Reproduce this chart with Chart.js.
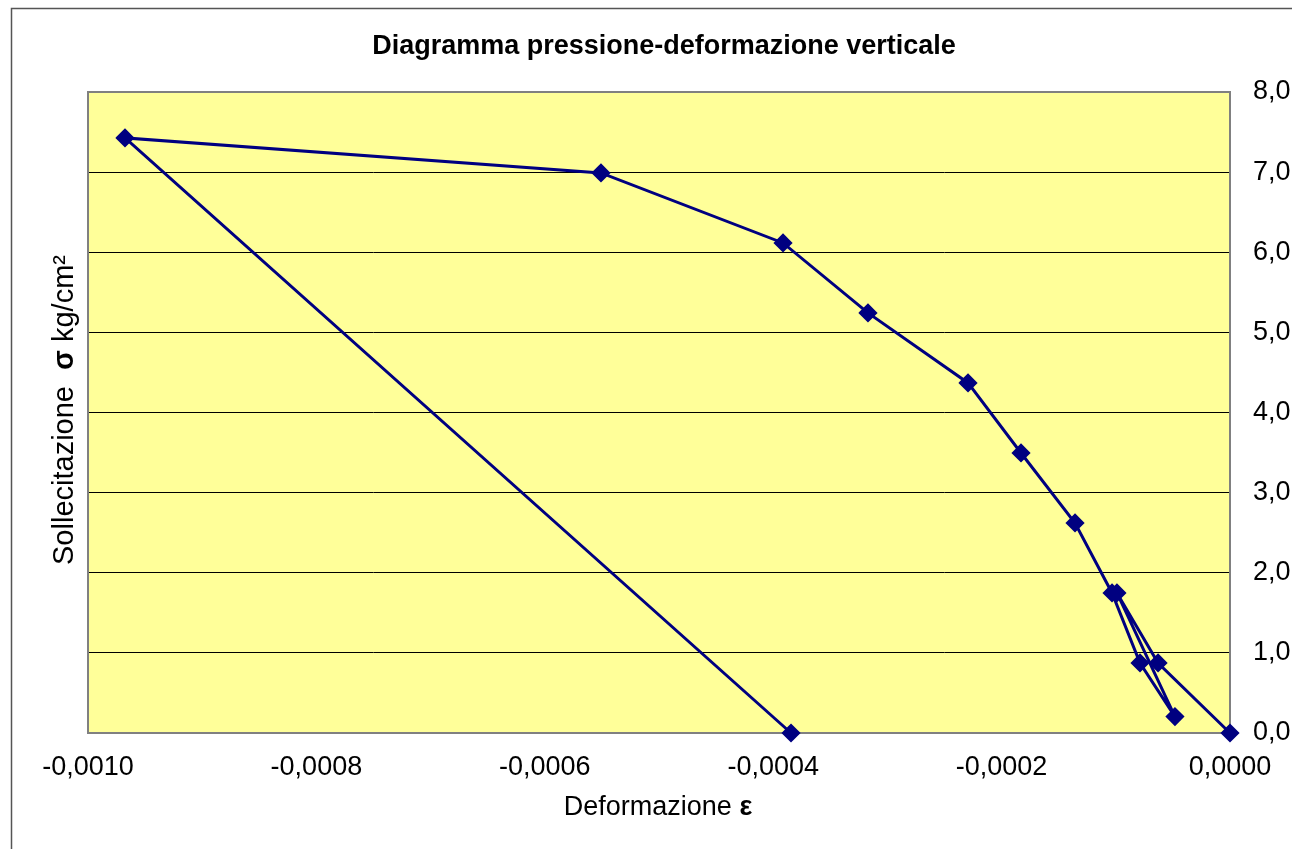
<!doctype html>
<html>
<head>
  <script src="https://cdn.jsdelivr.net/npm/chart.js@4.4.0/dist/chart.umd.min.js"></script>
  <style>
    body { margin: 0; background: #fff; }
    #wrap { width: 1292px; height: 849px; }
  </style>
</head>
<body>
  <div id="wrap"><canvas id="myChart" width="1292" height="849"></canvas></div>
  <script>
    // deformazione (epsilon) and sollecitazione (sigma, kg/cm2), in loading order
    var deformazione = [0, -0.0000630, -0.0000990, -0.0000482, -0.0000788, -0.0001033,
      -0.0001357, -0.0001830, -0.0002294, -0.0003170, -0.0003914, -0.0005508, -0.0009676, -0.0003844];
    var sollecitazione = [0, 0.874, 1.748, 0.205, 0.874, 1.748,
      2.621, 3.495, 4.369, 5.243, 6.116, 6.990, 7.427, 0];

    var titleText = 'Diagramma pressione-deformazione verticale';
    var navy = '#000080';
    var fam = '"Liberation Sans", Arial, sans-serif';

    var points = deformazione.map(function(x, i) {
      return { x: x, y: sollecitazione[i] };
    });

    // background, frame and titles (mixed bold text)
    var decor = {
      id: 'decor',
      beforeDraw: function(chart) {
        var ctx = chart.ctx, a = chart.chartArea;
        ctx.save();
        ctx.fillStyle = '#fff';
        ctx.fillRect(0, 0, chart.width, chart.height);
        ctx.strokeStyle = '#555';
        ctx.lineWidth = 1.5;
        ctx.strokeRect(11.5, 8.5, 1300, 860);
        ctx.fillStyle = '#FFFF99';
        ctx.fillRect(a.left, a.top, a.right - a.left, a.bottom - a.top);
        ctx.restore();
      },
      beforeDatasetsDraw: function(chart) {
        var ctx = chart.ctx, a = chart.chartArea;
        ctx.save();
        ctx.strokeStyle = '#808080';
        ctx.lineWidth = 2;
        ctx.strokeRect(a.left, a.top, a.right - a.left, a.bottom - a.top);
        ctx.restore();
      },
      afterDraw: function(chart) {
        var ctx = chart.ctx;
        ctx.save();
        ctx.fillStyle = '#000';
        ctx.textBaseline = 'middle';
        ctx.textAlign = 'center';
        ctx.font = 'bold 27px ' + fam;
        ctx.fillText(titleText, 664, 47);

        var drawMixed = function(parts, cx, cy) {
          var w = 0;
          parts.forEach(function(p) { ctx.font = p[1]; w += ctx.measureText(p[0]).width; });
          var x = cx - w / 2;
          ctx.textAlign = 'left';
          parts.forEach(function(p) {
            ctx.font = p[1];
            ctx.fillText(p[0], x, cy);
            x += ctx.measureText(p[0]).width;
          });
        };
        drawMixed([['Deformazione ', '27px ' + fam], ['\u03b5', 'bold 27px ' + fam]], 658, 808);

        ctx.translate(65, 410);
        ctx.rotate(-Math.PI / 2);
        drawMixed([['Sollecitazione  ', '29px ' + fam], ['\u03c3', 'bold 29px ' + fam],
          [' kg/cm\u00b2', '29px ' + fam]], 0, 0);
        ctx.restore();
      }
    };

    var config = {
      type: 'scatter',
      data: {
        datasets: [{
          data: points,
          showLine: true,
          borderColor: navy,
          backgroundColor: navy,
          borderWidth: 3,
          pointStyle: 'rectRot',
          pointRadius: 7.5,
          pointHoverRadius: 7.5,
          clip: false
        }]
      },
      options: {
        responsive: false,
        animation: false,
        layout: { padding: { left: 88, top: 92, right: 0, bottom: 0 } },
        plugins: {
          legend: { display: false },
          tooltip: { enabled: false },
          title: { display: false }
        },
        scales: {
          x: {
            type: 'linear',
            min: -0.001,
            max: 0,
            afterFit: function(s) { s.height = 116; },
            grid: { display: false, drawTicks: false },
            border: { display: false },
            ticks: {
              stepSize: 0.0002,
              padding: 18,
              color: '#000',
              font: { family: fam, size: 27 },
              callback: function(v) {
                return (Math.abs(v) < 1e-12 ? 0 : v).toFixed(4).replace('.', ',');
              }
            }
          },
          y: {
            type: 'linear',
            position: 'right',
            min: 0,
            max: 8,
            afterFit: function(s) { s.width = 62; },
            grid: { color: '#000', lineWidth: 1, drawTicks: false },
            border: { display: false },
            ticks: {
              stepSize: 1,
              padding: 23,
              color: '#000',
              font: { family: fam, size: 27 },
              callback: function(v) { return v.toFixed(1).replace('.', ','); }
            }
          }
        }
      },
      plugins: [decor]
    };

    window.onload = function() {
      var ctx = document.getElementById('myChart').getContext('2d');
      window.myChart = new Chart(ctx, config);
    };
  </script>
</body>
</html>
